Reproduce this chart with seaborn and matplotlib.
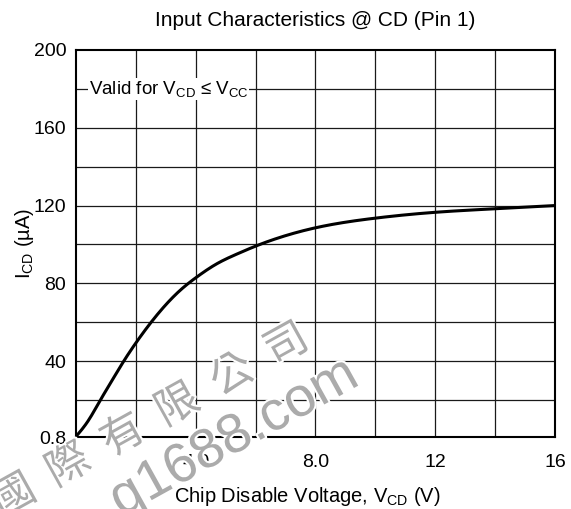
import numpy as np
import pandas as pd
import matplotlib
matplotlib.use("Agg")
import matplotlib.pyplot as plt
import matplotlib.patheffects as pe
import seaborn as sns

# Data
v_cd = [0.0, 0.4, 0.8, 1.2, 1.66, 2.0, 2.51, 3.09, 3.54, 4.08, 4.69, 5.37, 6.09, 6.63,
        7.98, 9.93, 11.97, 13.94, 16.0]
i_cd = [1.5, 8.6, 20.0, 29.8, 41.7, 49.3, 60.0, 70.5, 77.3, 83.7, 90.0, 95.0, 99.7, 102.7,
        108.5, 113.4, 116.5, 118.3, 120.0]
x_ticks = [0, 4, 8, 12, 16]
x_tick_labels = ["0", "4.0", "8.0", "12", "16"]
y_ticks = [0.8, 40, 80, 120, 160, 200]
y_tick_labels = ["0.8", "40", "80", "120", "160", "200"]

sns.set_theme(style="white")
plt.rcParams['font.family'] = ['Liberation Sans', 'DejaVu Sans']
plt.rcParams['mathtext.fontset'] = 'custom'
plt.rcParams['mathtext.rm'] = 'Liberation Sans'
plt.rcParams['mathtext.default'] = 'regular'

df = pd.DataFrame({"V": v_cd, "I": i_cd})

fig = plt.figure(figsize=(5.71, 5.09), dpi=100)
ax = fig.add_axes([0.133, 0.1405, 0.839, 0.7615])

# grid
for xv in np.arange(2, 16, 2):
    ax.axvline(xv, color="#1a1a1a", lw=0.9, zorder=1)
for yv in np.arange(20, 200, 20):
    ax.axhline(yv, color="#1a1a1a", lw=0.9, zorder=1)


def smoothing_fit(x, y, xn, lam=0.02):
    # penalised least squares on a fine grid (smooth curve near the read points)
    x = np.asarray(x, float); y = np.asarray(y, float)
    n = len(xn)
    A = np.zeros((len(x), n))
    for i, xi in enumerate(x):
        j = np.clip(np.searchsorted(xn, xi) - 1, 0, n - 2)
        t = (xi - xn[j]) / (xn[j+1] - xn[j])
        A[i, j] = 1 - t; A[i, j+1] = t
    D = np.diff(np.eye(n), 2, axis=0)
    h = xn[1] - xn[0]
    M = A.T @ A + lam * (D.T @ D) / h**4 * h
    return np.linalg.solve(M, A.T @ y)

xs = np.linspace(0, 16, 401)
ys = smoothing_fit(df["V"], df["I"], xs, lam=0.004)
smooth = pd.DataFrame({"V": xs, "I": ys})
sns.lineplot(data=smooth, x="V", y="I", ax=ax, color="black", lw=2.2, zorder=3)

ax.set_xlim(0, 16)
ax.set_ylim(0.8, 200)
ax.set_xticks(x_ticks)
ax.set_xticklabels(x_tick_labels)
ax.set_yticks(y_ticks)
ax.set_yticklabels(y_tick_labels)
ax.tick_params(axis="both", length=0, labelsize=14, colors="black")
ax.tick_params(axis="x", pad=12)
ax.tick_params(axis="y", pad=7)
for s in ax.spines.values():
    s.set_color("black")
    s.set_linewidth(1.5)
    s.set_zorder(4)

ax.set_xlabel("Chip Disable Voltage, V$_{CD}$ (V)", fontsize=14.5, color="black")
ax.xaxis.set_label_coords(0.483, -0.123)
ax.set_ylabel("I$_{CD}$ (µA)", fontsize=14.5, color="black")
ax.yaxis.set_label_coords(-0.084, 0.5)
ax.set_title("Input Characteristics @ CD (Pin 1)", fontsize=15, color="black", pad=17)

ax.text(0.42, 180, "Valid for V$_{CD}$ ≤ V$_{CC}$", fontsize=13.5, va="center", ha="left",
        color="black", zorder=5,
        bbox=dict(facecolor="white", edgecolor="none", pad=0.5))

# watermark
wm = dict(color="#ababab", rotation=29, rotation_mode="anchor", zorder=10,
          ha="left", va="center",
          path_effects=[pe.withStroke(linewidth=3, foreground="white")], clip_on=False)
fig.text(-0.008, 0.004, "國  際  有  限  公  司", fontsize=31,
         family=["Noto Sans CJK TC", "DejaVu Sans"], transform=fig.transFigure, **wm)
fig.text(0.2, 0.008, "q1688.com", fontsize=40,
         family=["Liberation Sans", "DejaVu Sans"], transform=fig.transFigure, **wm)

fig.savefig("out.png", dpi=100)
